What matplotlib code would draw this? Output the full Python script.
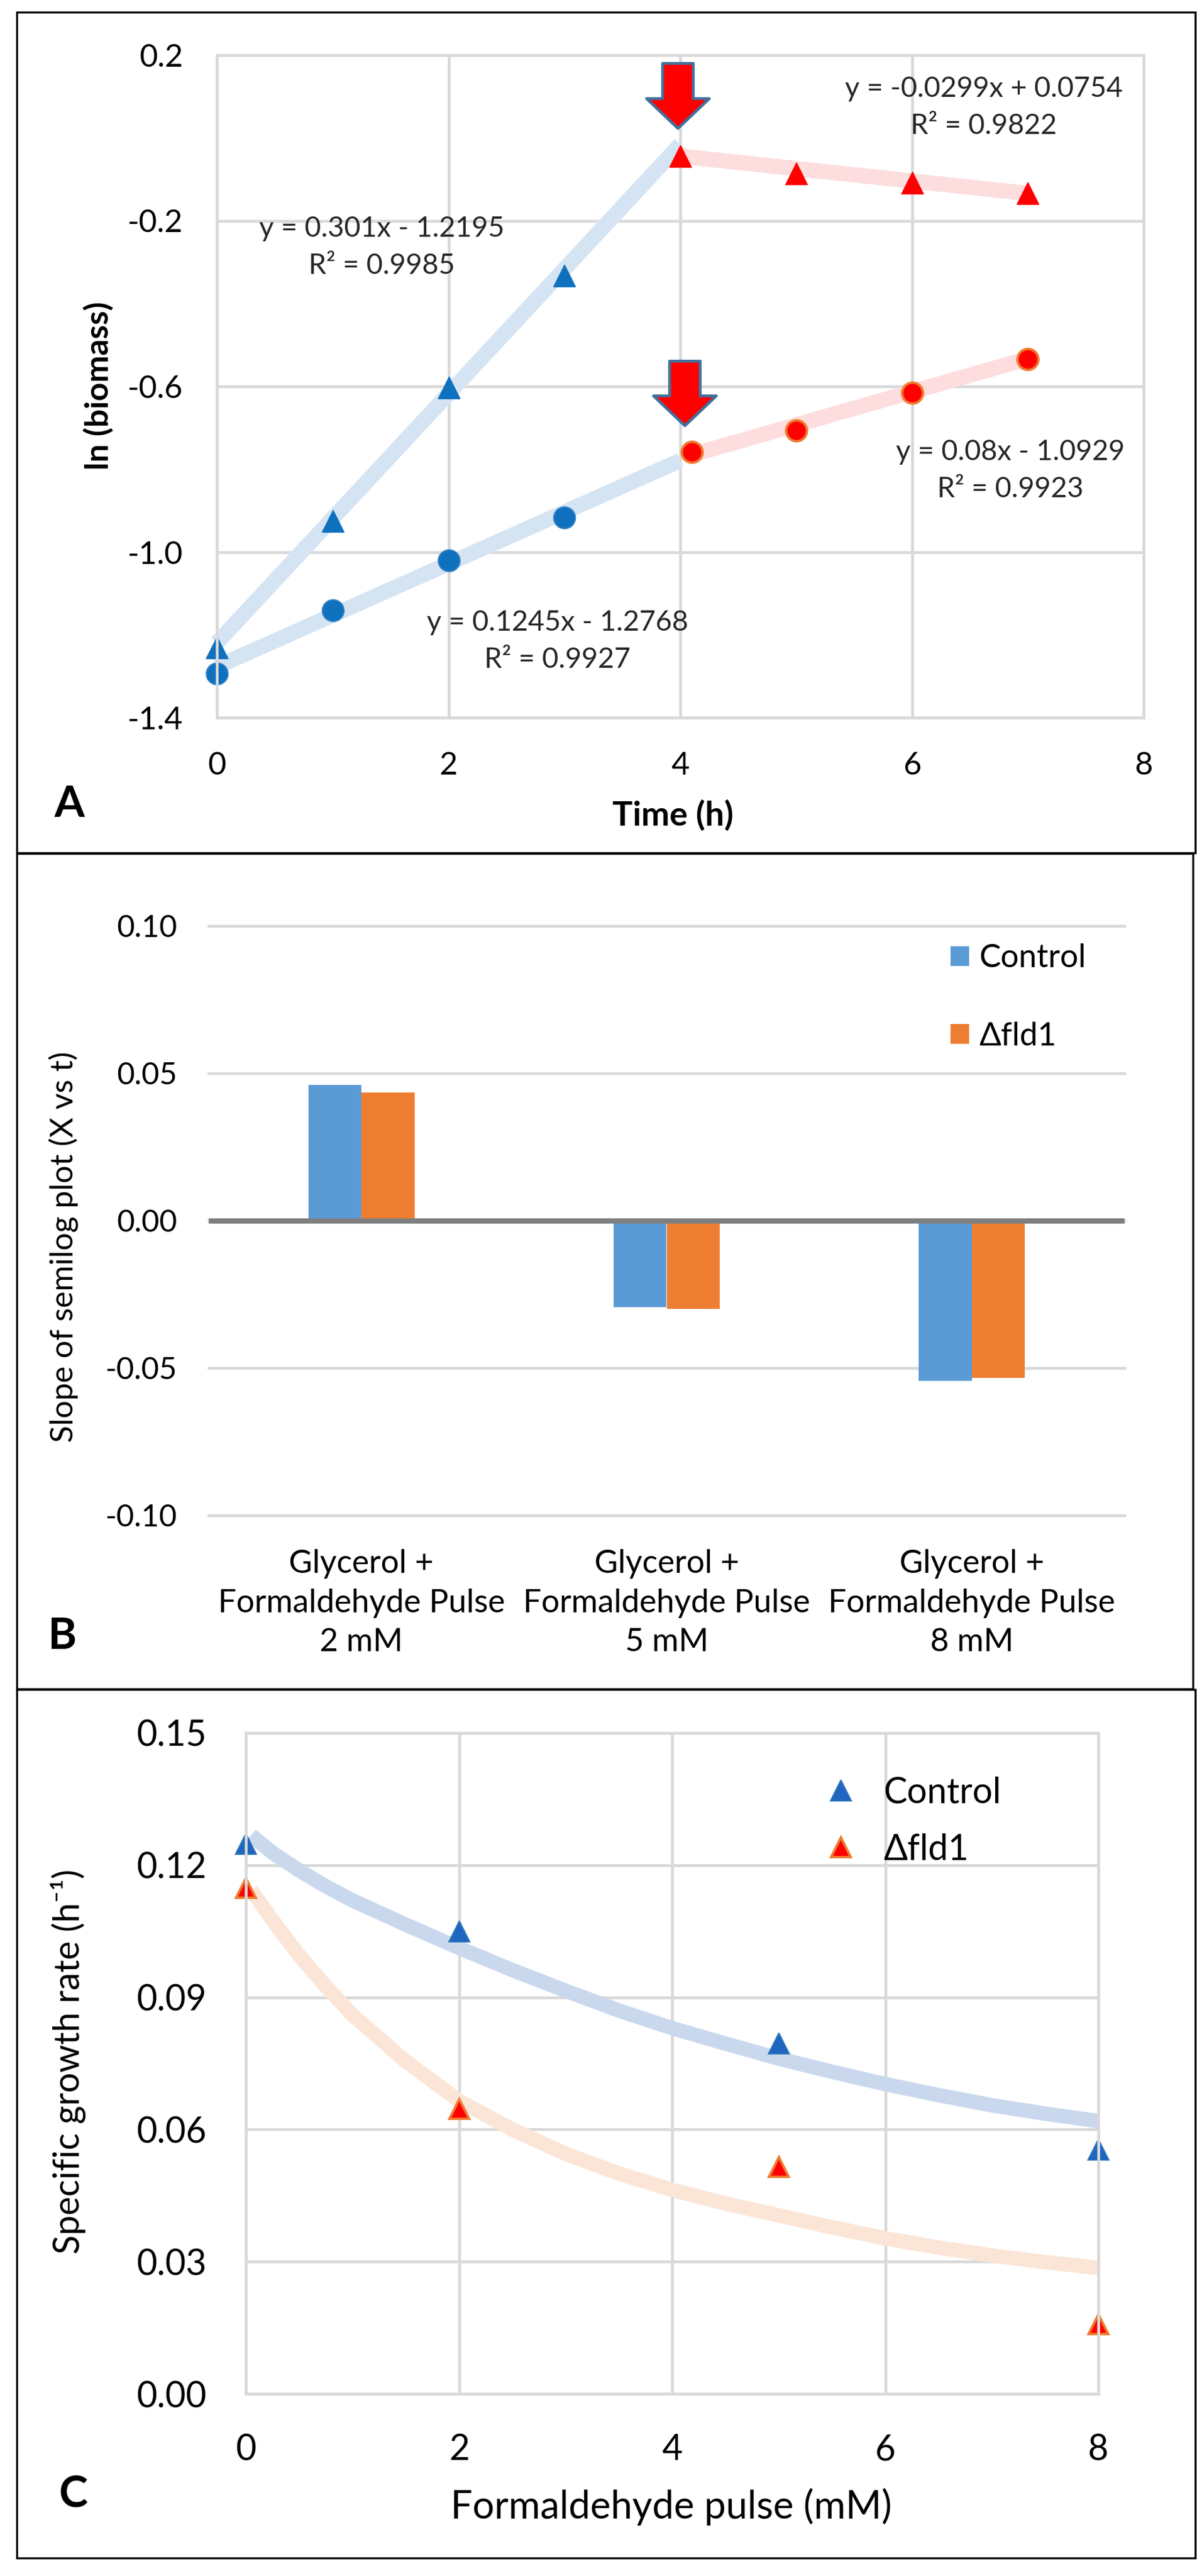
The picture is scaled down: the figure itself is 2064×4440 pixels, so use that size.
import matplotlib
matplotlib.use("Agg")
import matplotlib.pyplot as plt
from matplotlib.patches import Rectangle
import numpy as np

plt.rcParams['font.family'] = ['Lato', 'DejaVu Sans']

W = 2064
H = 4440

# panel A
tri_blue_x = [0, 1, 2, 3]
tri_blue_y = [-1.231, -0.925, -0.603, -0.332]
tri_red_x = [4, 5, 6, 7]
tri_red_y = [-0.044, -0.086, -0.108, -0.133]
cir_blue_x = [0, 1, 2, 3]
cir_blue_y = [-1.293, -1.141, -1.020, -0.916]
cir_red_x = [4.1, 5, 6, 7]
cir_red_y = [-0.759, -0.707, -0.615, -0.534]
fit_tri_blue_x = [0, 4]
fit_tri_blue_y = [-1.2195, -0.0155]
fit_tri_red_x = [4, 7]
fit_tri_red_y = [-0.044, -0.134]
fit_cir_blue_x = [0, 4]
fit_cir_blue_y = [-1.2768, -0.779]
fit_cir_red_x = [4.1, 7]
fit_cir_red_y = [-0.765, -0.533]

# panel B
groups = ['Glycerol +\nFormaldehyde Pulse\n2 mM',
          'Glycerol +\nFormaldehyde Pulse\n5 mM',
          'Glycerol +\nFormaldehyde Pulse\n8 mM']
slope_control = [0.0460, -0.0293, -0.0543]
slope_fld1 = [0.0436, -0.0300, -0.0533]

# panel C
pulse = [0, 2, 5, 8]
rate_control = [0.1249, 0.1050, 0.0796, 0.0554]
rate_fld1 = [0.1148, 0.0647, 0.0515, 0.0158]
curve_x = [0.05, 0.25, 0.5, 0.75, 1, 1.5, 2, 2.5, 3, 3.5, 4, 4.5, 5, 5.5, 6, 6.5, 7, 7.5, 8]
curve_control_y = [0.1268, 0.1228, 0.1188, 0.1152, 0.1120, 0.1065, 0.1012, 0.0962, 0.0915, 0.0870,
                   0.0830, 0.0795, 0.0761, 0.0731, 0.0703, 0.0678, 0.0655, 0.0636, 0.0619]
curve_fld1_y = [0.1143, 0.1075, 0.0995, 0.0925, 0.0860, 0.0755, 0.0665, 0.0600, 0.0545, 0.0500,
                0.0463, 0.0432, 0.0405, 0.0378, 0.0353, 0.0332, 0.0314, 0.0299, 0.0286]

GRID = '#D9D9D9'
BLUE = '#0F70BE'
RED = '#FF0000'
ORANGE = '#ED7D31'


def make_axes(left, top, right, bottom):
    return fig.add_axes([left/W, 1-bottom/H, (right-left)/W, (bottom-top)/H])


def frame(left, top, right, bottom):
    fig.add_artist(Rectangle((left/W, 1-bottom/H), (right-left)/W, (bottom-top)/H,
                             transform=fig.transFigure, fill=False, ec='black', lw=2.5))


def style_axes(ax):
    ax.set_axisbelow(True)
    ax.tick_params(length=0)
    for s in ax.spines.values():
        s.set_color(GRID)
        s.set_linewidth(3.5)


def place_labels(ax, xpos, ypos):
    ax.xaxis.set_label_coords(xpos[0]/W, 1-xpos[1]/H, transform=fig.transFigure)
    ax.yaxis.set_label_coords(ypos[0]/W, 1-ypos[1]/H, transform=fig.transFigure)
    ax.xaxis.label.set_va('center')
    ax.yaxis.label.set_va('center')


fig = plt.figure(figsize=(W/100, H/100), dpi=100, facecolor='white')

# ---------- A ----------
ax = make_axes(374, 95, 1972, 1237)
style_axes(ax)
ax.grid(True, color=GRID, lw=3.5)
ax.set_xlim(0, 8)
ax.set_ylim(-1.4, 0.2)
ax.set_xticks([0, 2, 4, 6, 8])
ax.set_yticks([-1.4, -1.0, -0.6, -0.2, 0.2])
ax.set_yticklabels(['-1.4', '-1.0', '-0.6', '-0.2', '0.2'])
ax.tick_params(axis='x', labelsize=39, pad=42)
ax.tick_params(axis='y', labelsize=39, pad=42)

ax.plot(fit_tri_blue_x, fit_tri_blue_y, color='#D5E4F3', lw=19, solid_capstyle='butt', clip_on=False)
ax.plot(fit_cir_blue_x, fit_cir_blue_y, color='#D5E4F3', lw=19, solid_capstyle='butt', clip_on=False)
ax.plot(fit_tri_red_x, fit_tri_red_y, color='#FDDDDD', lw=19, solid_capstyle='butt', clip_on=False)
ax.plot(fit_cir_red_x, fit_cir_red_y, color='#FDDDDD', lw=19, solid_capstyle='butt', clip_on=False)

ax.plot(tri_blue_x, tri_blue_y, ls='none', marker='^', ms=27, mfc=BLUE, mec=BLUE, clip_on=False)
ax.plot(cir_blue_x, cir_blue_y, ls='none', marker='o', ms=27, mfc=BLUE, mec='#3A86C8', mew=1.5, clip_on=False)
ax.plot(tri_red_x, tri_red_y, ls='none', marker='^', ms=27, mfc=RED, mec=RED, clip_on=False)
ax.plot(cir_red_x, cir_red_y, ls='none', marker='o', ms=26, mfc=RED, mec=ORANGE, mew=3, clip_on=False)

arrow = dict(width=38, headwidth=78, headlength=37, shrink=0, fc=RED, ec='#41719C', lw=3.5)
ax.annotate('', xy=(3.98, 0.023), xytext=(3.98, 0.18), arrowprops=arrow)
ax.annotate('', xy=(4.04, -0.695), xytext=(4.04, -0.539), arrowprops=arrow)

eq_font = dict(fontsize=35, ha='center', va='center', linespacing=1.55, color='#262626')
ax.text(1.424, -0.264, 'y = 0.301x - 1.2195\nR² = 0.9985', **eq_font)
ax.text(6.62, 0.074, 'y = -0.0299x + 0.0754\nR² = 0.9822', **eq_font)
ax.text(2.94, -1.215, 'y = 0.1245x - 1.2768\nR² = 0.9927', **eq_font)
ax.text(6.85, -0.803, 'y = 0.08x - 1.0929\nR² = 0.9923', **eq_font)

ax.set_xlabel('Time (h)', fontsize=42, fontweight='bold')
ax.set_ylabel('ln (biomass)', fontsize=40, fontweight='bold')
place_labels(ax, (1160, 1406), (170, 665))
fig.text(119/W, 1-1386/H, 'A', fontsize=54, fontweight='bold', ha='center', va='center')
frame(29, 21, 2061, 1470)

# ---------- B ----------
ax = make_axes(360, 1596, 1939, 2612)
ax.set_axisbelow(True)
ax.tick_params(length=0)
for s in ax.spines.values():
    s.set_visible(False)
ax.set_xlim(-0.5, 2.5)
ax.set_ylim(-0.10, 0.10)
ax.set_yticks([-0.10, -0.05, 0.0, 0.05, 0.10])
ax.set_yticklabels(['-0.10', '-0.05', '0.00', '0.05', '0.10'])
ax.yaxis.grid(True, color=GRID, lw=3.5, clip_on=False)
ax.tick_params(axis='y', labelsize=38, pad=39)

pos = np.arange(len(groups))
bw = 0.174
ax.bar(pos-bw/2, slope_control, bw, color='#5B9BD5', label='Control')
ax.bar(pos+bw/2, slope_fld1, bw, color=ORANGE, label='Δfld1')
ax.axhline(0, color='#7F7F7F', lw=6.5)
ax.set_xticks(pos)
ax.set_xticklabels(groups, fontsize=40, linespacing=1.4)
ax.tick_params(axis='x', pad=42)
ax.legend(loc='upper left', bbox_to_anchor=(0.81, 0.97), frameon=False, fontsize=40,
          handlelength=0.58, handleheight=0.55, handletextpad=0.3, labelspacing=1.5, borderpad=0, borderaxespad=0)
ax.set_ylabel('Slope of semilog plot (X vs t)', fontsize=39)
ax.yaxis.set_label_coords(109/W, 1-2149/H, transform=fig.transFigure)
ax.yaxis.label.set_va('center')
fig.text(108/W, 1-2820/H, 'B', fontsize=54, fontweight='bold', ha='center', va='center')
frame(29, 1471, 2057, 2911)

# ---------- C ----------
ax = make_axes(424, 2987, 1894, 4126)
style_axes(ax)
ax.grid(True, color=GRID, lw=3.5)
ax.set_xlim(0, 8)
ax.set_ylim(0, 0.15)
ax.set_xticks([0, 2, 4, 6, 8])
ax.set_yticks([0, 0.03, 0.06, 0.09, 0.12, 0.15])
ax.set_yticklabels(['0.00', '0.03', '0.06', '0.09', '0.12', '0.15'])
ax.tick_params(axis='both', labelsize=44, pad=49)

ax.plot(curve_x, curve_control_y, color='#CAD8EE', lw=18, solid_capstyle='butt', solid_joinstyle='round')
ax.plot(curve_x, curve_fld1_y, color='#FBE5D6', lw=18, solid_capstyle='butt', solid_joinstyle='round')
ax.plot(pulse, rate_control, ls='none', marker='^', ms=26, mfc='#1F66C1', mec='#2E75B6', mew=1.5,
        clip_on=False, label='Control')
ax.plot(pulse, rate_fld1, ls='none', marker='^', ms=25, mfc=RED, mec=ORANGE, mew=3,
        clip_on=False, label='Δfld1')
ax.legend(loc='upper left', bbox_to_anchor=(0.673, 0.935), frameon=False, fontsize=44,
          handlelength=1.2, handletextpad=0.6, labelspacing=0.68, borderpad=0, borderaxespad=0, numpoints=1)
ax.set_xlabel('Formaldehyde pulse (mM)', fontsize=48)
ax.set_ylabel('Specific growth rate (h⁻¹)', fontsize=44)
place_labels(ax, (1157, 4321), (117, 3553))
fig.text(126/W, 1-4300/H, 'C', fontsize=54, fontweight='bold', ha='center', va='center')
frame(29, 2912, 2061, 4409)

fig.savefig('out.png', dpi=100)
